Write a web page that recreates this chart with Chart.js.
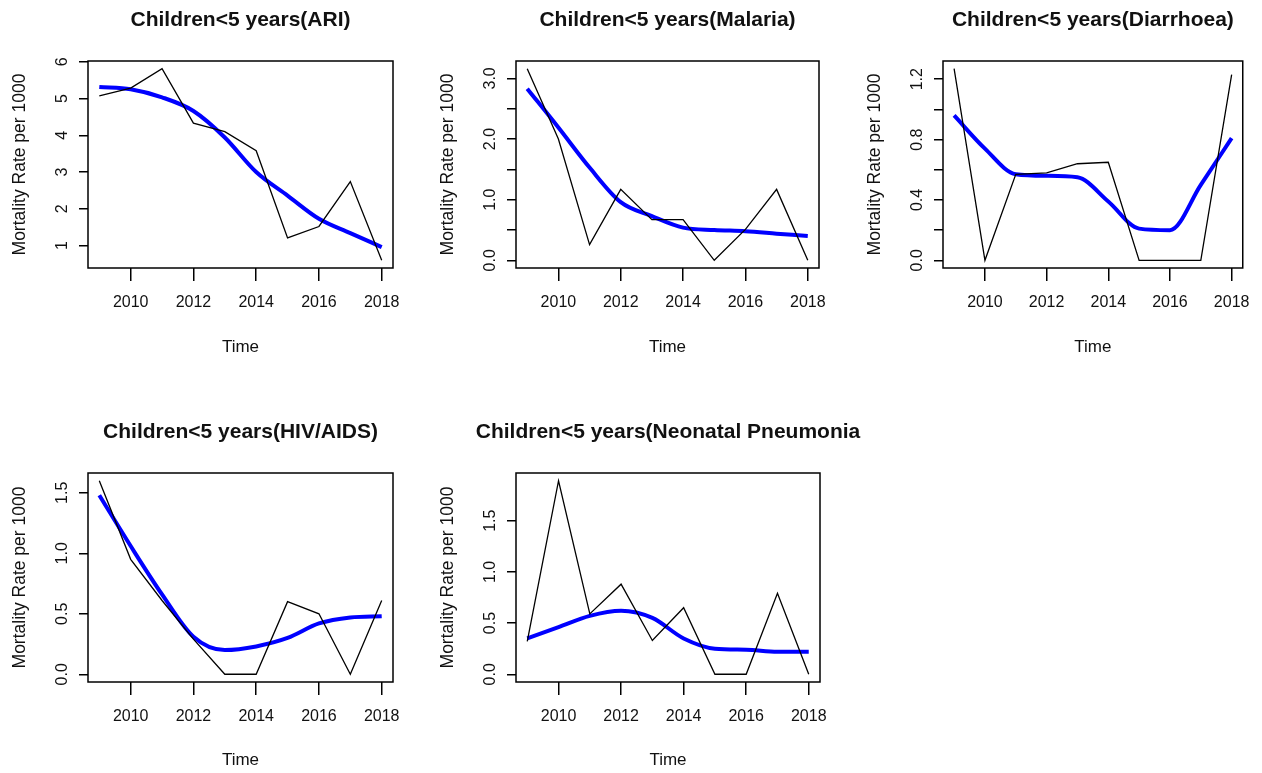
<!DOCTYPE html>
<html>
<head>
<meta charset="utf-8">
<title>Children&lt;5 years mortality</title>
<script src="https://cdn.jsdelivr.net/npm/chart.js@4.4.1/dist/chart.umd.min.js"></script>
<style>
  html, body { margin: 0; padding: 0; background: #fff; }
  #page { position: relative; width: 1262px; height: 773px; overflow: hidden; }
  #page canvas { position: absolute; }
</style>
</head>
<body>
<div id="page">
  <canvas id="c1"></canvas>
  <canvas id="c2"></canvas>
  <canvas id="c3"></canvas>
  <canvas id="c4"></canvas>
  <canvas id="c5"></canvas>
</div>
<script>
// ---- data ----
const years = [2009, 2010, 2011, 2012, 2013, 2014, 2015, 2016, 2017, 2018];
const xTicks = [2010, 2012, 2014, 2016, 2018];

const ariObs = [5.07, 5.28, 5.81, 4.33, 4.10, 3.58, 1.21, 1.52, 2.74, 0.60];
const ariFit = [5.31, 5.25, 5.03, 4.66, 3.94, 3.00, 2.36, 1.73, 1.34, 0.96];
const ariTicks = [1, 2, 3, 4, 5, 6];
const ariLabels = ['1', '2', '3', '4', '5', '6'];

const malObs = [3.16, 2.00, 0.26, 1.17, 0.67, 0.67, 0.00, 0.51, 1.17, 0.00];
const malFit = [2.83, 2.19, 1.53, 0.96, 0.73, 0.54, 0.50, 0.48, 0.44, 0.40];
const malTicks = [0, 0.5, 1, 1.5, 2, 2.5, 3];
const malLabels = ['0.0', '', '1.0', '', '2.0', '', '3.0'];

const diaObs = [1.27, 0.00, 0.57, 0.58, 0.64, 0.65, 0.00, 0.00, 0.00, 1.23];
const diaFit = [0.96, 0.74, 0.57, 0.56, 0.55, 0.39, 0.21, 0.20, 0.50, 0.81];
const diaTicks = [0, 0.2, 0.4, 0.6, 0.8, 1.0, 1.2];
const diaLabels = ['0.0', '', '0.4', '', '0.8', '', '1.2'];

const hivObs = [1.60, 0.95, 0.61, 0.29, 0.00, 0.00, 0.60, 0.50, 0.00, 0.61];
const hivFit = [1.48, 1.06, 0.66, 0.31, 0.20, 0.23, 0.30, 0.42, 0.47, 0.48];
const hivTicks = [0, 0.5, 1, 1.5];
const hivLabels = ['0.0', '0.5', '1.0', '1.5'];

const neoObs = [0.32, 1.89, 0.59, 0.88, 0.33, 0.65, 0.00, 0.00, 0.79, 0.00];
const neoFit = [0.35, 0.46, 0.57, 0.62, 0.55, 0.35, 0.25, 0.24, 0.22, 0.22];
const neoTicks = [0, 0.5, 1, 1.5];
const neoLabels = ['0.0', '0.5', '1.0', '1.5'];

const FONT = '"Liberation Sans", Arial, sans-serif';

// panel placement: canvas position/size and plot box inside it
const panels = [
  { id: 'c1', title: 'Children<5 years(ARI)', obs: ariObs, fit: ariFit, ticks: ariTicks, labels: ariLabels,
    x: 0, y: 0, w: 428, h: 390, box: { l: 88, t: 61, r: 393, b: 268 }, timeY: 347.5 },
  { id: 'c2', title: 'Children<5 years(Malaria)', obs: malObs, fit: malFit, ticks: malTicks, labels: malLabels,
    x: 428, y: 0, w: 427, h: 390, box: { l: 88, t: 61, r: 391, b: 268 }, timeY: 347.5 },
  { id: 'c3', title: 'Children<5 years(Diarrhoea)', obs: diaObs, fit: diaFit, ticks: diaTicks, labels: diaLabels,
    x: 855, y: 0, w: 407, h: 390, box: { l: 88, t: 61, r: 392, b: 268 }, timeY: 347.5 },
  { id: 'c4', title: 'Children<5 years(HIV/AIDS)', obs: hivObs, fit: hivFit, ticks: hivTicks, labels: hivLabels,
    x: 0, y: 412, w: 428, h: 361, box: { l: 88, t: 61, r: 393, b: 270 }, timeY: 348 },
  { id: 'c5', title: 'Children<5 years(Neonatal Pneumonia', obs: neoObs, fit: neoFit, ticks: neoTicks, labels: neoLabels,
    x: 428, y: 412, w: 460, h: 361, box: { l: 88, t: 61, r: 392, b: 270 }, timeY: 348 }
];

// R style range: data range widened by 4% each side
function padRange(arr) {
  const lo = Math.min(...arr), hi = Math.max(...arr);
  const d = (hi - lo) * 0.04;
  return [lo - d, hi + d];
}

// box, main title and rotated y tick labels
const rFrame = {
  id: 'rFrame',
  afterDraw(chart, args, opts) {
    const { ctx, chartArea: a } = chart;
    const ys = chart.scales.y;
    ctx.save();
    ctx.strokeStyle = '#000';
    ctx.lineWidth = 1.5;
    ctx.strokeRect(a.left, a.top, a.right - a.left, a.bottom - a.top);

    ctx.fillStyle = '#111';
    ctx.font = 'bold 21px ' + FONT;
    ctx.textAlign = 'center';
    ctx.textBaseline = 'alphabetic';
    ctx.fillText(opts.title, (a.left + a.right) / 2, a.top - 35);

    ctx.font = '16px ' + FONT;
    opts.ticks.forEach((v, i) => {
      const lab = opts.labels[i];
      if (!lab) return;
      ctx.save();
      ctx.translate(a.left - 21.5, ys.getPixelForValue(v));
      ctx.rotate(-Math.PI / 2);
      ctx.fillText(lab, 0, 0);
      ctx.restore();
    });
    ctx.restore();
  }
};

panels.forEach(p => {
  const cv = document.getElementById(p.id);
  cv.width = p.w; cv.height = p.h;
  cv.style.left = p.x + 'px'; cv.style.top = p.y + 'px';

  const [xmin, xmax] = padRange(years);
  const [ymin, ymax] = padRange(p.obs);
  const toXY = arr => arr.map((v, i) => ({ x: years[i], y: v }));

  new Chart(cv, {
    type: 'line',
    data: {
      datasets: [
        { data: toXY(p.obs), borderColor: '#000', borderWidth: 1.3, pointRadius: 0, tension: 0 },
        { data: toXY(p.fit), borderColor: '#0000ff', borderWidth: 4, pointRadius: 0,
          cubicInterpolationMode: 'monotone' }
      ]
    },
    options: {
      responsive: false,
      animation: false,
      devicePixelRatio: 1,
      layout: { padding: { left: 0, top: p.box.t, right: p.w - p.box.r, bottom: 0 } },
      plugins: {
        legend: { display: false },
        tooltip: { enabled: false },
        rFrame: { title: p.title, ticks: p.ticks, labels: p.labels }
      },
      scales: {
        x: {
          type: 'linear', min: xmin, max: xmax,
          afterBuildTicks: s => { s.ticks = xTicks.map(v => ({ value: v })); },
          afterFit: s => { s.height = p.h - p.box.b; },
          ticks: { callback: v => String(v), color: '#111', padding: 12, maxRotation: 0,
                   font: { family: FONT, size: 16 } },
          grid: { drawOnChartArea: false, drawTicks: true, tickLength: 13, color: '#000', lineWidth: 1.5 },
          border: { display: false },
          title: { display: true, text: 'Time', color: '#111', font: { family: FONT, size: 17 },
                   padding: { top: 0, bottom: p.h - p.timeY - 10.2 } }
        },
        y: {
          type: 'linear', min: ymin, max: ymax,
          afterBuildTicks: s => { s.ticks = p.ticks.map(v => ({ value: v })); },
          afterFit: s => { s.width = p.box.l; },
          ticks: { display: false },
          grid: { drawOnChartArea: false, drawTicks: true, tickLength: 9, color: '#000', lineWidth: 1.5 },
          border: { display: false },
          title: { display: true, text: 'Mortality Rate per 1000', color: '#111',
                   font: { family: FONT, size: 17.5 }, padding: { top: 10, bottom: 0 } }
        }
      }
    },
    plugins: [rFrame]
  });
});
</script>
</body>
</html>
